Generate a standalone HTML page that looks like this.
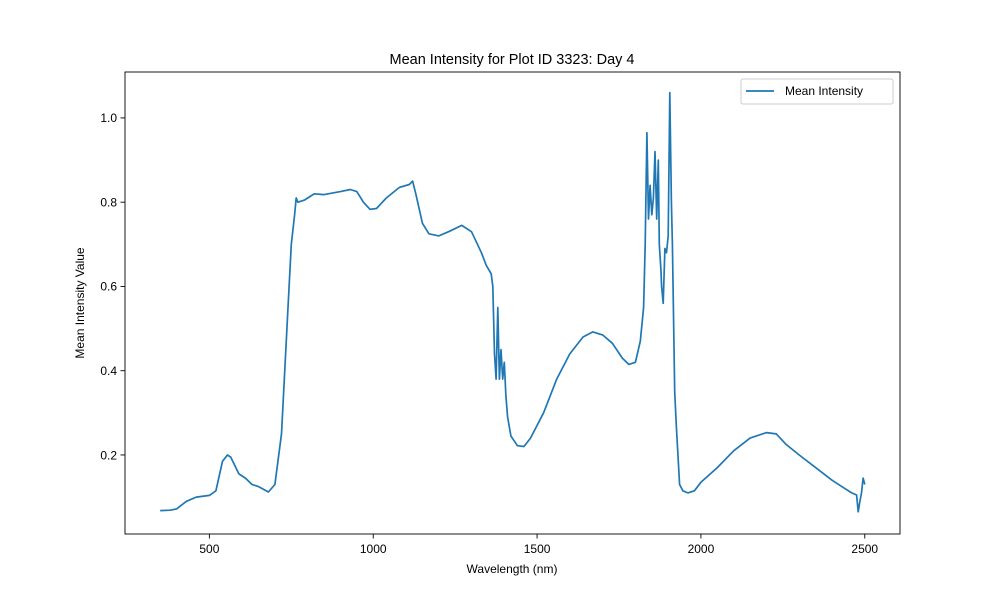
<!DOCTYPE html>
<html><head><meta charset="utf-8"><style>
body{margin:0;background:#fff;}
svg{font-family:"Liberation Sans","DejaVu Sans",sans-serif;}
</style></head><body>
<svg id="chart" width="1000" height="600" xmlns="http://www.w3.org/2000/svg">
<rect width="1000" height="600" fill="#fff"/>
<text x="512" y="64" font-size="14.5" text-anchor="middle">Mean Intensity for Plot ID 3323: Day 4</text>
<g id="xticks"></g>
<g id="yticks"></g>
<path id="line" fill="none" stroke="#1f77b4" stroke-width="1.7" stroke-linejoin="round"/>
<rect x="125" y="72" width="775" height="462" fill="none" stroke="#000" stroke-width="0.9"/>
<text x="512" y="573" font-size="12" text-anchor="middle">Wavelength (nm)</text>
<text transform="translate(84,303) rotate(-90)" font-size="12" text-anchor="middle">Mean Intensity Value</text>
<g>
<rect x="741" y="79" width="152" height="25" rx="2" fill="#fff" stroke="#ccc"/>
<line x1="746" y1="91" x2="774" y2="91" stroke="#1f77b4" stroke-width="1.7"/>
<text x="785" y="95" font-size="12">Mean Intensity</text>
</g>
</svg>
<script>
const wavelengths=[350,380,400,430,460,500,520,540,555,565,590,610,630,650,680,700,720,740,750,760,765,770,790,810,820,850,900,930,950,970,990,1010,1040,1080,1110,1120,1130,1150,1170,1200,1230,1270,1300,1330,1345,1360,1365,1370,1375,1380,1385,1390,1395,1400,1405,1410,1420,1440,1460,1480,1520,1560,1600,1640,1670,1700,1730,1760,1780,1800,1815,1825,1830,1835,1840,1845,1850,1855,1860,1865,1870,1873,1878,1880,1885,1890,1895,1900,1905,1910,1913,1920,1925,1935,1945,1960,1980,2000,2050,2100,2150,2200,2230,2260,2300,2350,2400,2440,2460,2475,2480,2485,2490,2495,2500];
const intensity=[0.068,0.069,0.072,0.09,0.1,0.104,0.115,0.185,0.2,0.195,0.155,0.145,0.13,0.125,0.112,0.13,0.25,0.55,0.7,0.77,0.81,0.8,0.805,0.815,0.82,0.818,0.825,0.83,0.825,0.8,0.783,0.785,0.81,0.835,0.842,0.85,0.82,0.75,0.725,0.72,0.73,0.745,0.73,0.68,0.65,0.63,0.6,0.44,0.38,0.55,0.38,0.45,0.38,0.42,0.34,0.29,0.245,0.222,0.22,0.24,0.3,0.38,0.44,0.48,0.492,0.485,0.465,0.43,0.415,0.42,0.47,0.55,0.7,0.965,0.76,0.84,0.77,0.81,0.92,0.76,0.9,0.7,0.64,0.6,0.56,0.69,0.68,0.72,1.06,0.8,0.7,0.35,0.27,0.13,0.115,0.11,0.115,0.135,0.17,0.21,0.24,0.253,0.25,0.225,0.2,0.17,0.14,0.12,0.11,0.105,0.065,0.09,0.11,0.145,0.13];
const xTickLabels=[500,1000,1500,2000,2500];
const yTickLabels=[0.2,0.4,0.6,0.8,1.0];
const X0=125,X1=900,Y0=534,Y1=72,xmin=242.5,xmax=2607.5,ymin=0.0124,ymax=1.109;
const xs=v=>X0+(v-xmin)/(xmax-xmin)*(X1-X0);
const ys=v=>Y0-(v-ymin)/(ymax-ymin)*(Y0-Y1);
const NS="http://www.w3.org/2000/svg";
function mk(tag,attrs,parent){const e=document.createElementNS(NS,tag);for(const k in attrs)e.setAttribute(k,attrs[k]);parent.appendChild(e);return e;}
const xg=document.getElementById('xticks'),yg=document.getElementById('yticks');
xTickLabels.forEach(t=>{const x=xs(t);
const l=mk('line',{x1:x,x2:x,y1:Y0,y2:Y0+4.5,stroke:'#000','stroke-width':0.9},xg);


const tx=mk('text',{x:x,y:Y0+19,'font-size':12,'text-anchor':'middle'},xg);tx.textContent=t;

});
yTickLabels.forEach(t=>{const y=ys(t);
const l=mk('line',{x1:X0-4.5,x2:X0,y1:y,y2:y,stroke:'#000','stroke-width':0.9},yg);


const tx=mk('text',{x:X0-8,y:y+4.3,'font-size':12,'text-anchor':'end'},yg);tx.textContent=t.toFixed(1);

});
document.getElementById('line').setAttribute('d',wavelengths.map((w,i)=>(i?'L':'M')+xs(w).toFixed(1)+','+ys(intensity[i]).toFixed(1)).join(''));
</script>
</body></html>
